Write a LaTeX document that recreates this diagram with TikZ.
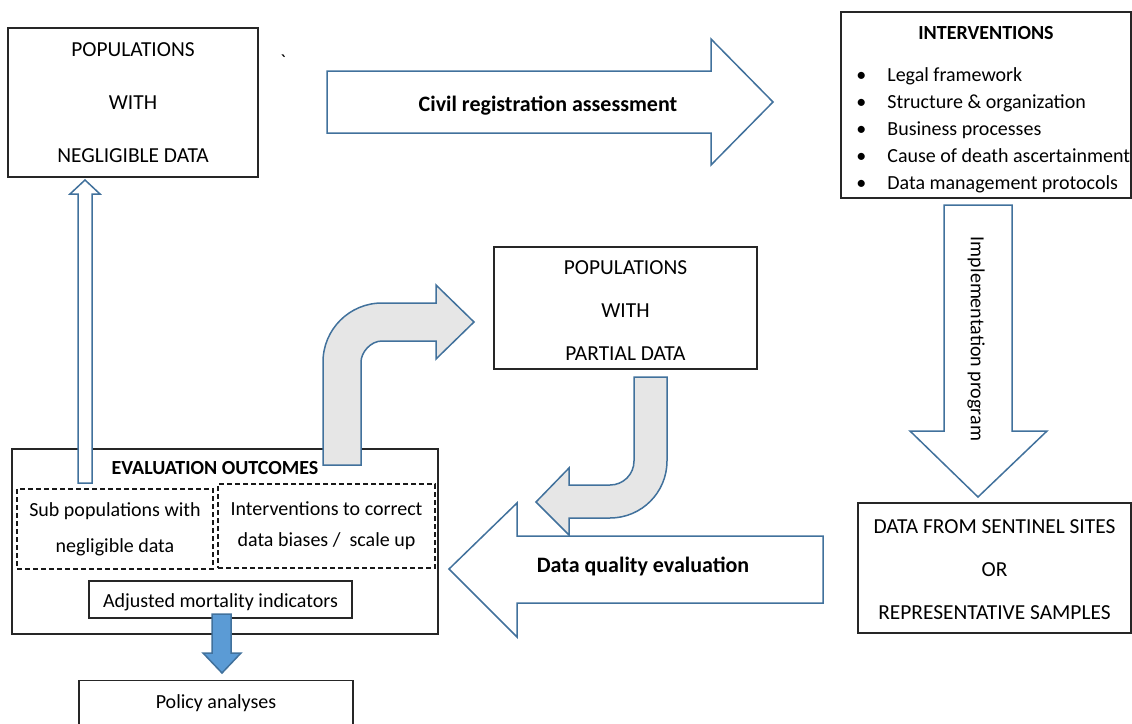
\documentclass[tikz,border=0pt]{standalone}
\usepackage{fontspec}
\setmainfont{Carlito}
\usepackage{tikz}
\definecolor{arrowblue}{HTML}{41719C}
\definecolor{fillblue}{HTML}{5B9BD5}
\definecolor{bendgrey}{HTML}{E6E6E6}
\tikzset{box/.style={draw=black!85,line width=0.6pt,inner sep=0pt,align=center,
		font=\fontsize{10.7}{21.5}\selectfont},
	dashbox/.style={draw=black!90,dash pattern=on 2.5pt off 1.5pt,line width=1pt,
		inner sep=0pt,align=center,font=\fontsize{10}{18}\selectfont},
	blockarrow/.style={draw=arrowblue,line width=0.75pt,fill=white,line join=miter},
	bendarrow/.style={blockarrow,fill=bendgrey},
	arrowlabel/.style={font=\bfseries\fontsize{11}{13}\selectfont},
	boxtitle/.style={font=\bfseries\fontsize{10}{12}\selectfont}}

\begin{document}
\begin{tikzpicture}[x=0.5pt,y=-0.5pt]
\useasboundingbox (0,0) rectangle (1132,724);
\clip (0,0) rectangle (1132,724);
\node [box,minimum width=125pt,minimum height=74.5pt,font=\fontsize{10.7}{26.5}\selectfont] (neg) at (133,102.5) {POPULATIONS\\WITH\\NEGLIGIBLE DATA};
\node (tick) at (283,62) {\textasciigrave};
\node [box,minimum width=145pt,minimum height=93pt] (intv) at (986,105) {};
\node [boxtitle] (intvtitle) at (986,33) {INTERVENTIONS};
\node [anchor=west,align=left,inner sep=0pt,font=\fontsize{10}{13.5}\selectfont] (intvlist) at (856,130) {\makebox[15.5pt][l]{\textbullet}Legal framework\\
  \makebox[15.5pt][l]{\textbullet}Structure \& organization\\
  \makebox[15.5pt][l]{\textbullet}Business processes\\
  \makebox[15.5pt][l]{\textbullet}Cause of death ascertainment\\
  \makebox[15.5pt][l]{\textbullet}Data management protocols};
\node [box,minimum width=131.5pt,minimum height=61pt] (partial) at (625.5,308) {};
\node [box,draw=none,font=\fontsize{10.7}{21.5}\selectfont] (partialtext) at (625.5,311) {POPULATIONS\\WITH\\PARTIAL DATA};
\node [box,minimum width=136.5pt,minimum height=65pt] (sentinel) at (994.5,568) {};
\node [box,draw=none] (sentineltext) at (994.5,570) {DATA FROM SENTINEL SITES\\OR\\REPRESENTATIVE SAMPLES};
\node [box,minimum width=213pt,minimum height=92.5pt] (eval) at (225,541.5) {};
\node [boxtitle] (evaltitle) at (215,468) {EVALUATION OUTCOMES};
\node [dashbox,minimum width=98pt,minimum height=40pt] (subpop) at (115,529) {Sub populations with\\negligible data};
\node [dashbox,minimum width=108.5pt,minimum height=42pt,font=\fontsize{10}{15.5}\selectfont] (correct) at (326.5,526) {Interventions to correct\\data biases /\ \ scale up};
\node [box,minimum width=131.5pt,minimum height=18.5pt] (adjusted) at (220.5,599.5) {};
\node [font=\fontsize{10}{12}\selectfont] (adjustedtext) at (220.5,602) {Adjusted mortality indicators};
\node [box,anchor=north,minimum width=137pt,minimum height=25pt,font=\fontsize{10}{12}\selectfont] (policy) at (216,680) {\raisebox{4.5pt}{Policy analyses}};

\draw [blockarrow] (327,71) -- (711,71) -- (711,39) -- (773,102) -- (711,165) -- (711,133) -- (327,133) -- cycle;
\node [arrowlabel] (civil) at (548,106) {Civil registration assessment};
\draw [blockarrow] (944,205) -- (1012,205) -- (1012,431) -- (1047,431) -- (978,497) -- (910,431) -- (944,431) -- cycle;
\node [rotate=-90,font=\fontsize{10}{12}\selectfont] (impl) at (976,339) {Implementation program};
\draw [blockarrow] (823,536) -- (517,536) -- (517,503) -- (449,569) -- (517,637) -- (517,603) -- (823,603) -- cycle;
\node [arrowlabel] (quality) at (643,566) {Data quality evaluation};
\draw [bendarrow] (634,377) -- (667,377) -- (667,461) .. controls (667,492.5) and (641.5,518) .. (610,518)
  -- (569,518) -- (569,535) -- (536,502) -- (569,468) -- (569,485) -- (610,485)
  .. controls (623.3,485) and (634,474.3) .. (634,461) -- cycle;
\draw [bendarrow] (323,465) -- (323,362) .. controls (323,329.4) and (349.4,303) .. (382,303)
  -- (436,303) -- (436,285) -- (474,322) -- (436,359) -- (436,341) -- (382,341)
  .. controls (370.4,341) and (361,352.6) .. (361,362) -- (361,465) -- cycle;
\draw [blockarrow] (78,483) -- (78,194) -- (70,194) -- (85,180) -- (100,194) -- (92,194) -- (92,483) -- cycle;
\draw [blockarrow,fill=fillblue] (212,614) -- (231,614) -- (231,653) -- (241,653) -- (222,673) -- (203,653) -- (212,653) -- cycle;
\end{tikzpicture}
\end{document}
